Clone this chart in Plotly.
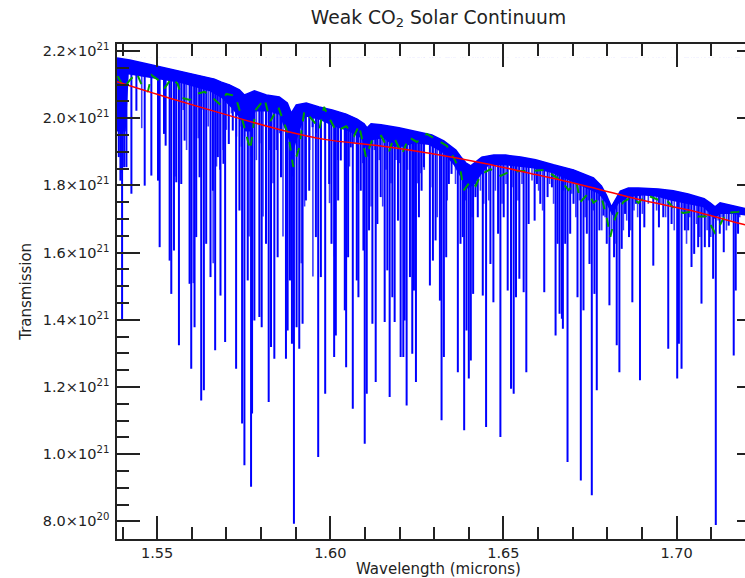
import plotly.graph_objects as go

E21 = 1e21

# upper envelope of the blue spectrum (wavelength, value in 1e21)
env_x = [1.53840, 1.54208, 1.54726, 1.55216, 1.55706, 1.56224, 1.56656, 1.56858, 1.57088, 1.57376,
         1.57520, 1.57664, 1.57808, 1.58154, 1.58528, 1.58759, 1.58874, 1.59018, 1.59306, 1.59680,
         1.60055, 1.60458, 1.60775, 1.60977, 1.61063, 1.61178, 1.61466, 1.61984, 1.62560, 1.62935,
         1.63280, 1.63626, 1.63799, 1.63914, 1.64058, 1.64202, 1.64375, 1.64721, 1.65066, 1.65498,
         1.65930, 1.66448, 1.67024, 1.67601, 1.67831, 1.67975, 1.68119, 1.68234, 1.68378, 1.68609,
         1.68897, 1.69473, 1.69905, 1.70337, 1.70798, 1.70970, 1.71114, 1.71258, 1.71633, 1.72007,
         1.72411]
env_y = [2.179, 2.173, 2.161, 2.149, 2.137, 2.125, 2.116, 2.107, 2.099, 2.084,
         2.069, 2.075, 2.081, 2.069, 2.063, 2.045, 2.015, 2.039, 2.045, 2.033,
         2.024, 2.012, 1.997, 1.983, 1.971, 1.983, 1.980, 1.971, 1.959, 1.950,
         1.932, 1.905, 1.881, 1.867, 1.858, 1.870, 1.884, 1.890, 1.890, 1.884,
         1.876, 1.861, 1.846, 1.822, 1.798, 1.771, 1.736, 1.757, 1.783, 1.792,
         1.792, 1.789, 1.784, 1.774, 1.760, 1.748, 1.736, 1.748, 1.739, 1.730,
         1.725]

# lower edge of the densely packed (solid looking) part of the spectrum
band_x = [1.53840, 1.54093, 1.54179, 1.54784, 1.55648, 1.56512, 1.56858, 1.57146, 1.57376, 1.57549,
          1.57722, 1.57837, 1.58240, 1.58528, 1.58701, 1.58931, 1.59104, 1.59277, 1.59680, 1.60112,
          1.60544, 1.60890, 1.61063, 1.61236, 1.61552, 1.61840, 1.62128, 1.62416, 1.62848, 1.63280,
          1.63568, 1.63770, 1.63943, 1.64144, 1.64346, 1.64576, 1.65008, 1.65441, 1.65873, 1.66449,
          1.66881, 1.67313, 1.67745, 1.67976, 1.68149, 1.68322, 1.68610, 1.69042, 1.69474, 1.69819,
          1.70049, 1.70337, 1.70769, 1.70971, 1.71086, 1.71258, 1.71633, 1.72411]
band_y = [1.960, 1.960, 2.130, 2.120, 2.105, 2.080, 2.060, 2.030, 2.000, 1.960,
          1.960, 2.020, 2.020, 2.010, 1.960, 1.900, 1.960, 2.005, 1.995, 1.975,
          1.960, 1.940, 1.905, 1.935, 1.940, 1.915, 1.915, 1.925, 1.920, 1.895,
          1.860, 1.820, 1.790, 1.800, 1.830, 1.860, 1.860, 1.855, 1.850, 1.835,
          1.815, 1.795, 1.775, 1.745, 1.710, 1.745, 1.765, 1.770, 1.765, 1.755,
          1.750, 1.745, 1.735, 1.715, 1.700, 1.715, 1.715, 1.705]

# strong absorption lines: position and minimum value (1e21)
line_x = [1.53891, 1.53939, 1.53987, 1.54045, 1.54112, 1.54256, 1.54400, 1.54640, 1.54832, 1.55024,
          1.55072, 1.55197, 1.55245, 1.55360, 1.55408, 1.55485, 1.55552, 1.55629, 1.55696, 1.55792,
          1.55936, 1.55984, 1.56080, 1.56128, 1.56224, 1.56272, 1.56349, 1.56416, 1.56541, 1.56608,
          1.56675, 1.56752, 1.56829,
          1.56915, 1.56963, 1.57069, 1.57184, 1.57280, 1.57376, 1.57453, 1.57520, 1.57616, 1.57712,
          1.57741, 1.57808, 1.57952, 1.58019, 1.58144, 1.58221, 1.58288, 1.58384, 1.58480, 1.58576,
          1.58720, 1.58768, 1.58835, 1.58893, 1.58950, 1.59027, 1.59104, 1.59200, 1.59296, 1.59392,
          1.59488, 1.59584, 1.59651, 1.59728, 1.59853,
          1.59968, 1.60035, 1.60112, 1.60160, 1.60227, 1.60304, 1.60419, 1.60458, 1.60515, 1.60592,
          1.60650, 1.60765, 1.60813, 1.60880, 1.60957, 1.60995, 1.61053, 1.61120, 1.61216, 1.61312,
          1.61360, 1.61456, 1.61571, 1.61648, 1.61715, 1.61792, 1.61859, 1.61955, 1.62032, 1.62109,
          1.62147, 1.62205, 1.62301, 1.62368, 1.62416, 1.62474, 1.62560, 1.62637, 1.62704, 1.62877,
          1.62964, 1.63041, 1.63166, 1.63214, 1.63281, 1.63348, 1.63425, 1.63502, 1.63569, 1.63684,
          1.63761, 1.63828, 1.63867, 1.63934, 1.64001, 1.64059, 1.64126, 1.64193, 1.64260, 1.64404,
          1.64500, 1.64625, 1.64711, 1.64846, 1.64913, 1.65009, 1.65124, 1.65220, 1.65297, 1.65364,
          1.65460, 1.65585, 1.65662, 1.65729, 1.65902,
          1.65969, 1.66065, 1.66180, 1.66276, 1.66401, 1.66507, 1.66564, 1.66622, 1.66689, 1.66718,
          1.66785, 1.66852, 1.66929, 1.67025, 1.67140, 1.67236, 1.67313, 1.67409, 1.67486, 1.67553,
          1.67630, 1.67697, 1.67774, 1.67889, 1.67985, 1.68062, 1.68196, 1.68273, 1.68350, 1.68417,
          1.68513, 1.68628, 1.68724, 1.68829, 1.68945,
          1.69070, 1.69329, 1.69492, 1.69617, 1.69761, 1.69857, 1.70020, 1.70068, 1.70145, 1.70241,
          1.70337, 1.70433, 1.70510, 1.70625, 1.70721, 1.70817, 1.70942, 1.71057, 1.71134, 1.71249,
          1.71364, 1.71508, 1.71652, 1.71710, 1.71777]
line_depth = [1.884, 1.814, 1.398, 1.854, 1.854, 1.775, 2.022, 1.799, 1.829, 1.814,
              1.616, 1.953, 1.918, 1.576, 1.477, 1.606, 1.809, 1.324, 1.804, 1.933,
              1.507, 1.254, 1.378, 1.646, 1.824, 1.160, 1.190, 1.626, 1.527, 1.784,
              1.309, 1.884, 1.472,
              1.864, 1.334, 1.923, 1.963, 1.254, 1.725, 1.091, 0.967, 1.517, 0.903,
              1.121, 1.398, 1.408, 1.378, 1.626, 1.155, 1.319, 1.284, 1.586, 1.824,
              1.284, 1.368, 1.517, 1.329, 0.793, 1.378, 1.314, 1.388, 1.755, 1.784,
              1.973, 1.646, 0.992, 1.527, 1.180,
              1.804, 1.626, 1.289, 1.353, 1.755, 1.874, 1.428, 1.259, 1.586, 1.913,
              1.135, 1.517, 1.467, 1.784, 1.606, 1.031, 1.180, 1.666, 1.388, 1.215,
              1.685, 1.765, 1.393, 1.547, 1.170, 1.467, 1.393, 1.695, 1.289, 1.289,
              1.398, 1.145, 1.527, 1.299, 1.487, 1.215, 1.705, 1.784, 1.854, 1.502,
              1.576, 1.636, 1.457, 1.101, 1.289, 1.586, 1.804, 1.834, 1.893, 1.244,
              1.626, 1.646, 1.071, 1.368, 1.225, 1.279, 1.477, 1.765, 1.705, 1.472,
              1.081, 1.566, 1.452, 1.656, 1.051, 1.705, 1.487, 1.195, 1.180, 1.467,
              1.522, 1.482, 1.244, 1.685, 1.695,
              1.804, 1.745, 1.482, 1.765, 1.794, 1.353, 1.626, 1.418, 1.403, 1.373,
              1.626, 0.977, 1.656, 1.745, 1.467, 0.922, 1.428, 1.656, 1.566, 0.878,
              1.477, 1.190, 1.666, 1.710, 1.626, 1.443, 1.586, 1.324, 1.244, 1.611,
              1.715, 1.646, 1.452, 1.745, 1.220,
              1.675, 1.561, 1.675, 1.705, 1.314, 1.685, 1.225, 1.329, 1.254, 1.666,
              1.666, 1.557, 1.596, 1.616, 1.448, 1.616, 1.616, 1.522, 0.789, 1.656,
              1.601, 1.680, 1.294, 1.487, 1.656]

# weaker absorption lines: position and minimum value (1e21)
weak_x = [1.53978, 1.54554, 1.55514, 1.55754, 1.55850, 1.56042, 1.56186, 1.56330, 1.56474, 1.56618,
          1.56714, 1.56810, 1.56906, 1.57002, 1.57146, 1.57290, 1.57386, 1.57434, 1.57530, 1.57655,
          1.57722, 1.57866, 1.57962, 1.58058, 1.58154, 1.58250, 1.58346, 1.58442, 1.58538, 1.58634,
          1.58730, 1.58826, 1.58922, 1.59066, 1.59162, 1.59258, 1.59402, 1.59498, 1.59594, 1.59738,
          1.59834, 1.59978, 1.60122, 1.60218, 1.60314, 1.60458, 1.60554, 1.60698, 1.60794, 1.60938,
          1.61082, 1.61178, 1.61274, 1.61418, 1.61514, 1.61610, 1.61754, 1.61898, 1.61994, 1.62234,
          1.62378, 1.62522, 1.62618, 1.62714,
          1.62945, 1.63089, 1.63377, 1.63617, 1.63905, 1.64097, 1.64337, 1.64433, 1.64577, 1.64769,
          1.64961, 1.65076, 1.65249, 1.65422, 1.65537, 1.65825,
          1.66017, 1.66132, 1.66334, 1.66449, 1.66737, 1.66977, 1.67092, 1.67198, 1.67361, 1.67457,
          1.67601, 1.67745, 1.67841, 1.67937, 1.68129, 1.68225, 1.68465, 1.68561, 1.68676, 1.68772,
          1.68877,
          1.69012, 1.69185, 1.69425, 1.69550, 1.69684, 1.69934, 1.70193, 1.70289, 1.70385, 1.70577,
          1.70673, 1.70769, 1.70884, 1.70990, 1.71201, 1.71316, 1.71441, 1.71585, 1.71825]
weak_depth = [1.836, 1.970, 1.826, 2.024, 1.905, 1.509, 1.940, 2.024, 1.975, 1.568,
              1.856, 1.846, 1.905, 1.965, 2.014, 1.945, 1.975, 1.915, 1.945, 1.648,
              1.885, 1.875, 1.925, 1.707, 1.985, 1.905, 1.806, 1.905, 1.955, 1.648,
              1.846, 1.875, 1.826, 1.905, 1.568, 1.737, 1.905, 1.529, 1.955, 1.846,
              1.935, 1.747, 1.588, 1.875, 1.925, 1.786, 1.856, 1.925, 1.806, 1.866,
              1.885, 1.737, 1.905, 1.875, 1.737, 1.846, 1.806, 1.875, 1.866, 1.846,
              1.875, 1.806, 1.836, 1.846,
              1.794, 1.705, 1.755, 1.804, 1.755, 1.705, 1.784, 1.745, 1.755, 1.784,
              1.745, 1.804, 1.794, 1.755, 1.804, 1.814,
              1.784, 1.725, 1.804, 1.745, 1.784, 1.775, 1.705, 1.755, 1.705, 1.755,
              1.725, 1.755, 1.666, 1.705, 1.666, 1.626, 1.666, 1.695, 1.666, 1.725,
              1.705,
              1.715, 1.745, 1.725, 1.745, 1.705, 1.666, 1.715, 1.626, 1.705, 1.685,
              1.646, 1.705, 1.666, 1.646, 1.695, 1.705, 1.666, 1.695, 1.705]

# red smooth continuum
red_x = [1.5384, 1.5527, 1.5686, 1.5873, 1.5988, 1.6141, 1.6291, 1.6443, 1.6593, 1.6746,
         1.6895, 1.7042, 1.7192, 1.7241]
red_y = [2.108, 2.062, 2.014, 1.961, 1.936, 1.918, 1.895, 1.866, 1.832, 1.796,
         1.757, 1.725, 1.684, 1.672]

# green dashed smoothed spectrum
green_x = [1.5386, 1.5404, 1.5421, 1.5441, 1.5455, 1.5473, 1.5484, 1.5504, 1.5522, 1.5542,
           1.5559, 1.5573, 1.5594, 1.5614, 1.5637, 1.5654, 1.5680, 1.5700, 1.5726, 1.5746,
           1.5769, 1.5784, 1.5810, 1.5827, 1.5850, 1.5879, 1.5893, 1.5910, 1.5925, 1.5954,
           1.5968, 1.5982, 1.5997, 1.6017, 1.6046, 1.6069, 1.6083, 1.6103, 1.6121, 1.6147,
           1.6170, 1.6184, 1.6207, 1.6227, 1.6250, 1.6279, 1.6308, 1.6337, 1.6357, 1.6377,
           1.6386, 1.6406, 1.6420, 1.6435, 1.6463, 1.6492, 1.6515, 1.6553, 1.6587, 1.6621,
           1.6650, 1.6665, 1.6688, 1.6711, 1.6723, 1.6746, 1.6760, 1.6783, 1.6798, 1.6809,
           1.6818, 1.6826, 1.6846, 1.6869, 1.6890, 1.6913, 1.6947, 1.6976, 1.6996, 1.7019,
           1.7039, 1.7062, 1.7085, 1.7100, 1.7111, 1.7126, 1.7143, 1.7178, 1.7200, 1.7241]
green_y = [2.125, 2.090, 2.113, 2.134, 2.099, 2.078, 2.128, 2.113, 2.090, 2.119,
           2.102, 2.060, 2.054, 2.072, 2.078, 2.066, 2.042, 2.072, 2.066, 1.995,
           1.905, 2.024, 2.057, 1.991, 2.033, 1.950, 1.855, 1.911, 2.021, 1.988,
           1.965, 2.033, 2.000, 1.961, 1.976, 1.947, 1.979, 1.884, 1.935, 1.947,
           1.902, 1.943, 1.893, 1.943, 1.929, 1.953, 1.935, 1.917, 1.881, 1.839,
           1.786, 1.813, 1.798, 1.833, 1.848, 1.828, 1.839, 1.843, 1.843, 1.846,
           1.825, 1.816, 1.786, 1.807, 1.751, 1.777, 1.748, 1.765, 1.706, 1.647,
           1.688, 1.712, 1.750, 1.765, 1.748, 1.771, 1.757, 1.751, 1.727, 1.718,
           1.721, 1.707, 1.707, 1.677, 1.659, 1.683, 1.718, 1.721, 1.727, 1.725]

y_tick_vals = [0.8, 1.0, 1.2, 1.4, 1.6, 1.8, 2.0, 2.2]
y_tick_text = ["8.0×10<sup>20</sup>", "1.0×10<sup>21</sup>", "1.2×10<sup>21</sup>", "1.4×10<sup>21</sup>",
               "1.6×10<sup>21</sup>", "1.8×10<sup>21</sup>", "2.0×10<sup>21</sup>", "2.2×10<sup>21</sup>"]
y_minor_vals = [0.75, 0.85, 0.9, 0.95, 1.05, 1.1, 1.15, 1.25, 1.3, 1.35, 1.45, 1.5, 1.55,
                1.65, 1.7, 1.75, 1.85, 1.9, 1.95, 2.05, 2.1, 2.15]

BLUE = "#0000ff"
fig = go.Figure()

top = max(env_y)


def comb(xs, ds):
    cx, cy = [], []
    for x, d in zip(xs, ds):
        cx += [x, x, None]
        cy += [d * E21, top * E21, None]
    return cx, cy


# absorption lines (drawn up to the spectrum maximum; the part above the envelope is masked)
wx, wy = comb(weak_x, weak_depth)
fig.add_trace(go.Scatter(x=wx, y=wy, mode="lines", line=dict(color="#1a1aff", width=1.6),
                         opacity=0.85, hoverinfo="skip", showlegend=False))
lx, ly = comb(line_x, line_depth)
fig.add_trace(go.Scatter(x=lx, y=ly, mode="lines", line=dict(color=BLUE, width=2.0),
                         hoverinfo="skip", showlegend=False))

# mask above the envelope
fig.add_trace(go.Scatter(x=env_x, y=[top * E21] * len(env_x), mode="lines",
                         line=dict(width=0), hoverinfo="skip", showlegend=False))
fig.add_trace(go.Scatter(x=env_x, y=[v * E21 for v in env_y], mode="lines", fill="tonexty",
                         fillcolor="white", line=dict(width=0), hoverinfo="skip", showlegend=False))

# dense band
fig.add_trace(go.Scatter(x=band_x, y=[v * E21 for v in band_y], mode="lines",
                         line=dict(width=0, color=BLUE), hoverinfo="skip", showlegend=False))
fig.add_trace(go.Scatter(x=env_x, y=[v * E21 for v in env_y], mode="lines", fill="tonexty",
                         fillcolor=BLUE, line=dict(color=BLUE, width=1.5),
                         hoverinfo="skip", showlegend=False))

fig.add_trace(go.Scatter(x=green_x, y=[v * E21 for v in green_y], mode="lines",
                         line=dict(color="#00a000", width=2.0, dash="dash"),
                         hoverinfo="skip", showlegend=False))
fig.add_trace(go.Scatter(x=red_x, y=[v * E21 for v in red_y], mode="lines",
                         line=dict(color="#ff0000", width=1.5, shape="spline"),
                         hoverinfo="skip", showlegend=False))

FONT = "DejaVu Sans"
axis_common = dict(showgrid=False, zeroline=False, showline=True, linecolor="#222",
                   linewidth=1.5, mirror="ticks", ticks="inside", ticklen=23,
                   tickcolor="#222", tickwidth=1.5,
                   tickfont=dict(family=FONT, size=14.5, color="#222"))

fig.update_layout(
    width=763, height=578,
    margin=dict(l=117, r=1, t=44, b=39),
    paper_bgcolor="white", plot_bgcolor="white",
    title=dict(text="Weak CO<sub>2</sub> Solar Continuum", x=0.5, xref="paper",
               y=1 - 17 / 578, yref="container", yanchor="middle", xanchor="center",
               font=dict(family=FONT, size=18.7, color="#222")),
    xaxis=dict(range=[1.5384, 1.72411], tick0=1.55, dtick=0.05, tickformat=".2f",
               minor=dict(ticks="inside", ticklen=12, dtick=0.01, tick0=1.5,
                          tickcolor="#222", tickwidth=1.5),
               **axis_common),
    yaxis=dict(range=[0.7477 * E21, 2.2205 * E21],
               tickmode="array", tickvals=[v * E21 for v in y_tick_vals], ticktext=y_tick_text,
               minor=dict(ticks="inside", ticklen=12, tickmode="array",
                          tickvals=[v * E21 for v in y_minor_vals],
                          tickcolor="#222", tickwidth=1.5),
               ticklabelstandoff=3,
               **axis_common),
    annotations=[
        dict(text="Wavelength (microns)", x=0.5, xref="paper", y=(539 - 568.5) / 495, yref="paper",
             yanchor="middle", xanchor="center", showarrow=False,
             font=dict(family=FONT, size=15, color="#222")),
        dict(text="Transmission", x=(25 - 117) / 645, xref="paper", y=0.5, yref="paper",
             textangle=-90, showarrow=False, xanchor="center", yanchor="middle",
             font=dict(family=FONT, size=15, color="#222")),
    ],
)

fig.write_html("out.html", post_script=[
    "document.documentElement.style.overflow='hidden';document.body.style.overflow='hidden';document.body.style.margin='0';"
])
